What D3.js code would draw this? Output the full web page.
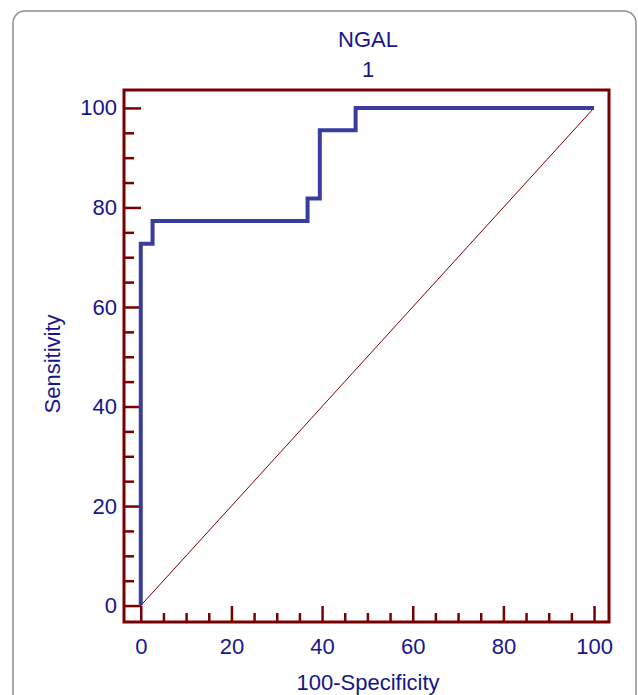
<!DOCTYPE html>
<html>
<head>
<meta charset="utf-8">
<script src="https://cdn.jsdelivr.net/npm/d3@7"></script>
<style>
  body { margin: 0; background: #fff; }
  text { font-family: "Liberation Sans", Arial, sans-serif; }
</style>
</head>
<body>
<script>
// ROC curve points (100-Specificity, Sensitivity)
var fpr  = [0, 0,    2.6,  2.6,  36.8, 36.8, 39.5, 39.5, 47.4, 47.4, 100];
var sens = [0, 72.7, 72.7, 77.3, 77.3, 81.8, 81.8, 95.5, 95.5, 100,  100];
var majorTicks = [0, 20, 40, 60, 80, 100];
var title = ["NGAL", "1"];

var width = 638, height = 695;
var navy = "#16168c", dark = "#780000", blue = "#3a3c9e";

var svg = d3.select("body").append("svg")
    .attr("width", width)
    .attr("height", height);

// outer frame
svg.append("rect")
    .attr("x", 13).attr("y", 11)
    .attr("width", 623).attr("height", 720)
    .attr("rx", 12).attr("ry", 12)
    .attr("fill", "none")
    .attr("stroke", "#8c8c8c")
    .attr("stroke-width", 1.5);

var x = d3.scaleLinear().domain([-3.7, 103.3]).range([124, 609]);
var y = d3.scaleLinear().domain([-3.3, 103.6]).range([622, 90]);

var minor = d3.range(0, 101, 5).filter(function(d){ return d % 20 != 0; });

// minor ticks
svg.append("g")
    .attr("transform", "translate(0,622)")
    .call(d3.axisBottom(x).tickValues(minor).tickSize(-9).tickFormat(""));
svg.append("g")
    .attr("transform", "translate(124,0)")
    .call(d3.axisLeft(y).tickValues(minor).tickSize(-10).tickFormat(""));

// major ticks + labels
var xAxis = svg.append("g")
    .attr("transform", "translate(0,622)")
    .call(d3.axisBottom(x).tickValues(majorTicks).tickSize(-16).tickPadding(16));
var yAxis = svg.append("g")
    .attr("transform", "translate(124,0)")
    .call(d3.axisLeft(y).tickValues(majorTicks).tickSize(-17).tickPadding(7));

svg.selectAll(".domain").remove();
svg.selectAll(".tick line").attr("stroke", dark).attr("stroke-width", 2.5);
svg.selectAll(".tick text")
    .attr("fill", navy)
    .attr("font-size", "22px")
    .attr("font-family", "Liberation Sans, Arial, sans-serif");

// diagonal reference line
svg.append("line")
    .attr("x1", x(0)).attr("y1", y(0))
    .attr("x2", x(100)).attr("y2", y(100))
    .attr("stroke", dark)
    .attr("stroke-width", 1);

// ROC curve
var pts = fpr.map(function(d, i){ return [d, sens[i]]; });
var line = d3.line()
    .x(function(d){ return x(d[0]); })
    .y(function(d){ return y(d[1]); });
svg.append("path")
    .attr("d", line(pts))
    .attr("fill", "none")
    .attr("stroke", blue)
    .attr("stroke-width", 4)
    .attr("stroke-linejoin", "miter");

// plot box
svg.append("rect")
    .attr("x", 124).attr("y", 90)
    .attr("width", 485).attr("height", 532)
    .attr("fill", "none")
    .attr("stroke", dark)
    .attr("stroke-width", 3);

// titles
svg.selectAll(".title")
    .data(title)
    .enter()
    .append("text")
    .attr("class", "title")
    .attr("x", 368)
    .attr("y", function(d, i){ return 47 + i * 30; })
    .attr("text-anchor", "middle")
    .attr("font-size", "22px")
    .attr("fill", navy)
    .text(function(d){ return d; });

svg.append("text")
    .attr("x", 368).attr("y", 690)
    .attr("text-anchor", "middle")
    .attr("font-size", "22px")
    .attr("fill", navy)
    .text("100-Specificity");

svg.append("text")
    .attr("transform", "translate(60,364)rotate(-90)")
    .attr("text-anchor", "middle")
    .attr("font-size", "22px")
    .attr("fill", navy)
    .text("Sensitivity");
</script>
</body>
</html>
